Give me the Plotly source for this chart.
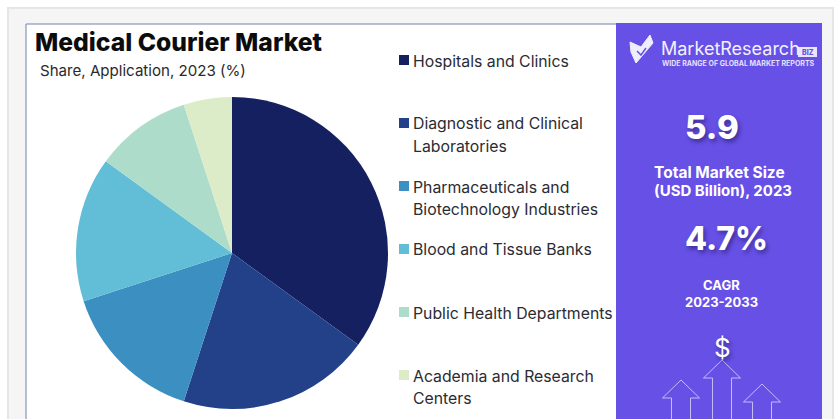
import plotly.graph_objects as go

W, H = 836, 419

categories = ["Hospitals and Clinics", "Diagnostic and Clinical<br>Laboratories",
              "Pharmaceuticals and<br>Biotechnology Industries", "Blood and Tissue Banks",
              "Public Health Departments", "Academia and Research<br>Centers"]
shares = [35, 20, 15, 15, 10, 5]
colors = ["#14205f", "#224189", "#3b8fc1", "#62bdd6", "#aedccb", "#dcebc8"]
legend_y = [60, 123, 186, 249, 312, 375]

FONT = "Inter"


def px(x):
    return x / W


def py(y):
    return 1 - y / H


def rect(x0, y0, x1, y1, fill, line=None, lw=0):
    return dict(type="rect", xref="paper", yref="paper", x0=px(x0), x1=px(x1), y0=py(y0), y1=py(y1),
                fillcolor=fill, line=dict(color=line or fill, width=lw), layer="below")


def poly(points, color, fill=None, lw=1):
    d = "M " + " L ".join(f"{px(a):.5f},{py(b):.5f}" for a, b in points)
    if fill:
        d += " Z"
    return dict(type="path", xref="paper", yref="paper", path=d,
                line=dict(color=color, width=lw), fillcolor=fill or "rgba(0,0,0,0)")


shapes = [
    rect(8, 8, 833, 430, "#f5f5f5", "#e6e6e6", 2),
    rect(26, 24, 617, 430, "#ffffff", "#6f84ad", 1),
    rect(616, 23, 822, 430, "#6750e6"),
    rect(798, 47, 817, 57, "#e9e6fb"),
]
for cy, c in zip(legend_y, colors):
    shapes.append(rect(399, cy - 5, 409, cy + 5, c))

# Logo check mark
shapes.append(poly([(630, 42), (641, 47), (650, 35), (653, 43), (636, 63), (631, 52)], "#f1eefc", "#f1eefc"))
shapes.append(poly([(637, 51), (641, 55), (646, 48)], "#6750e6", None, 1.5))

# Arrow outlines
arrow = "rgba(214,208,250,0.85)"
for cx, tip, shoulder in [(681, 380, 398), (722, 360, 378), (762, 384, 402)]:
    shapes.append(poly([(cx - 9.5, 425), (cx - 9.5, shoulder), (cx - 18.5, shoulder), (cx, tip),
                        (cx + 18.5, shoulder), (cx + 9.5, shoulder), (cx + 9.5, 425)], arrow))


def text(x, y, s, size, color="#ffffff", weight=400, anchor="left", shadow=None):
    return dict(xref="paper", yref="paper", x=px(x), y=py(y), text=s, showarrow=False, xanchor=anchor,
                yanchor="middle", align=anchor,
                font=dict(family=FONT, size=size, color=color, weight=weight, shadow=shadow or "none"))


sh = "2px 3px 4px rgba(30,20,90,0.55)"
ann = [
    text(33, 42, "Medical Courier Market", 24.7, "#0c0c0c", 800),
    text(38, 71, "Share, Application, 2023 (%)", 15.1, "#2a2a2a"),
    text(659, 49, "MarketResearch", 18, "#f3f1fd"),
    text(807.5, 52, "BIZ", 7, "#6750e6", 800, "center"),
    text(660, 63, "WIDE RANGE OF GLOBAL MARKET REPORTS", 7, "#e4e0fb", 700),
    text(712, 127, "5.9", 33, "#ffffff", 800, "center", sh),
    text(719, 172, "Total Market Size", 15.5, "#ffffff", 700, "center"),
    text(723, 190, "(USD Billion), 2023", 15, "#ffffff", 700, "center"),
    text(726, 238, "4.7%", 32, "#ffffff", 800, "center", sh),
    text(721, 285, "CAGR", 13, "#ffffff", 700, "center"),
    text(721, 302, "2023-2033", 13, "#ffffff", 700, "center"),
    text(722, 347, "$", 26, "#ffffff", 400, "center", sh),
]
for cy, name in zip(legend_y, categories):
    for i, line in enumerate(name.split("<br>")):
        ann.append(text(411, cy + 1 + 22.5 * i, line, 15.8, "#2b2b33"))

fig = go.Figure(go.Pie(
    values=shares, labels=[c.replace("<br>", " ") for c in categories],
    marker=dict(colors=colors, line=dict(width=0)),
    sort=False, direction="clockwise", rotation=0, textinfo="none", hoverinfo="label+percent",
    showlegend=False,
    domain=dict(x=[px(76), px(388)], y=[py(409), py(97)]),
))
fig.update_layout(
    width=W, height=H, margin=dict(l=0, r=0, t=0, b=0), paper_bgcolor="#ffffff",
    shapes=shapes, annotations=ann,
    font=dict(family=FONT),
)
fig.write_html("out.html", config=dict(displayModeBar=False),
               post_script="document.body.style.margin='0';document.body.style.overflow='hidden';")
